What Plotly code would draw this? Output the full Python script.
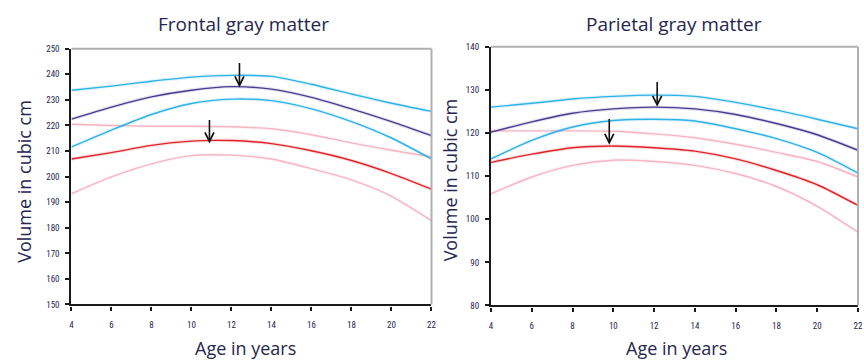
import plotly.graph_objects as go

# ---------------- data ----------------
ages = [4, 6, 8, 10, 12, 14, 16, 18, 20, 22]

# Frontal gray matter (cubic cm)
frontal_male_upper = [233.8, 235.4, 237.3, 238.9, 239.6, 239.2, 236.1, 232.3, 228.7, 225.5]
frontal_male_mean = [222.5, 227.2, 231.2, 233.8, 235.2, 234.2, 231.0, 226.5, 221.5, 216.0]
frontal_male_lower = [211.6, 218.2, 224.3, 228.6, 230.3, 229.7, 226.5, 221.5, 215.1, 206.9]
frontal_female_upper = [220.5, 220.0, 219.7, 219.7, 219.5, 218.7, 216.4, 213.2, 210.3, 207.8]
frontal_female_mean = [206.9, 209.4, 212.2, 213.9, 214.1, 212.9, 210.1, 206.3, 201.2, 195.1]
frontal_female_lower = [193.3, 199.9, 205.0, 208.2, 208.4, 206.9, 203.1, 198.7, 192.3, 182.8]

# Parietal gray matter (cubic cm)
parietal_male_upper = [126.0, 126.9, 127.9, 128.5, 128.8, 128.5, 127.1, 125.3, 123.2, 121.0]
parietal_male_mean = [120.2, 122.6, 124.6, 125.6, 126.0, 125.6, 124.3, 122.2, 119.6, 116.0]
parietal_male_lower = [114.0, 118.3, 121.4, 122.9, 123.2, 122.8, 121.0, 118.7, 115.5, 110.7]
parietal_female_upper = [120.5, 120.5, 120.5, 120.4, 119.8, 118.9, 117.4, 115.5, 113.4, 109.8]
parietal_female_mean = [113.2, 115.1, 116.6, 117.0, 116.6, 115.8, 114.0, 111.3, 108.0, 103.2]
parietal_female_lower = [105.9, 109.8, 112.5, 113.7, 113.4, 112.5, 110.6, 107.6, 103.0, 97.0]

# peak arrows: (age, start volume, tip volume)
frontal_arrows = [(12.4, 245.0, 234.9), (10.9, 222.7, 213.0)]
parietal_arrows = [(12.15, 132.2, 126.1), (9.8, 123.6, 117.3)]

titles = ["Frontal gray matter", "Parietal gray matter"]
x_title = "Age in years"
y_title = "Volume in cubic cm"
x_ticks = [4, 6, 8, 10, 12, 14, 16, 18, 20, 22]
frontal_y_ticks = [150, 160, 170, 180, 190, 200, 210, 220, 230, 240, 250]
parietal_y_ticks = [80, 90, 100, 110, 120, 130, 140]

# ---------------- style ----------------
CYAN = "#2fb2e6"
PURPLE = "#4a3b8f"
RED = "#e0242c"
PINK = "#f5b5c3"
TXT = "#26264f"

fig = go.Figure()

def add_series(vals, color, name, xa, ya):
    fig.add_trace(go.Scatter(x=ages, y=vals, mode="lines",
                             line=dict(color=color, width=3.5, shape="spline", smoothing=0.7),
                             opacity=0.15, hoverinfo="skip", showlegend=False, xaxis=xa, yaxis=ya))
    fig.add_trace(go.Scatter(x=ages, y=vals, mode="lines", name=name,
                             line=dict(color=color, width=1.4, shape="spline", smoothing=0.7),
                             showlegend=False, xaxis=xa, yaxis=ya))

panels = [
    ("x", "y", [frontal_female_lower, frontal_female_upper, frontal_female_mean,
                frontal_male_lower, frontal_male_upper, frontal_male_mean], frontal_arrows),
    ("x2", "y2", [parietal_female_lower, parietal_female_upper, parietal_female_mean,
                  parietal_male_lower, parietal_male_upper, parietal_male_mean], parietal_arrows),
]
colors = [PINK, PINK, RED, CYAN, CYAN, PURPLE]
names = ["Female lower", "Female upper", "Female mean", "Male lower", "Male upper", "Male mean"]

annotations = []
for xa, ya, series, arrows in panels:
    for vals, c, n in zip(series, colors, names):
        add_series(vals, c, n, xa, ya)
    for ax_, y0, y1 in arrows:
        annotations.append(dict(x=ax_, y=y1, ax=ax_, ay=y0, xref=xa, yref=ya, axref=xa, ayref=ya,
                                showarrow=True, arrowhead=5, arrowsize=1.1, arrowwidth=1.6,
                                arrowcolor="#111111", text=""))

tick_font = dict(family="Liberation Sans Narrow, Roboto Condensed, Roboto", size=9, color=TXT)
axis_common = dict(showgrid=False, zeroline=False, showline=True, linecolor="#1a1a1a", linewidth=2.2,
                   ticks="outside", ticklen=4, tickwidth=1.6, tickcolor="#1a1a1a", tickfont=tick_font)

fig.update_layout(
    width=864, height=362, margin=dict(l=0, r=0, t=0, b=0),
    paper_bgcolor="white", plot_bgcolor="white",
    xaxis=dict(domain=[70 / 864, 433 / 864], range=[4, 22], tickvals=x_ticks, anchor="y",
               ticklabelstandoff=7, **axis_common),
    yaxis=dict(domain=[1 - 308 / 362, 1 - 45 / 362], range=[150, 250], tickvals=frontal_y_ticks,
               anchor="x", ticklabelstandoff=4, **axis_common),
    xaxis2=dict(domain=[493 / 864, 863 / 864], range=[4, 22], tickvals=x_ticks, anchor="y2",
                ticklabelstandoff=7, **axis_common),
    yaxis2=dict(domain=[1 - 309 / 362, 1 - 43 / 362], range=[80, 140], tickvals=parietal_y_ticks,
                anchor="x2", ticklabelstandoff=4, **axis_common),
)

# grey top/right frame
for xa, ya in [("x", "y"), ("x2", "y2")]:
    fig.add_shape(type="line", xref=f"{xa} domain", yref=f"{ya} domain", x0=0, x1=1, y0=1, y1=1,
                  line=dict(color="#b0b0b0", width=2))
    fig.add_shape(type="line", xref=f"{xa} domain", yref=f"{ya} domain", x0=1, x1=1, y0=0, y1=1,
                  line=dict(color="#b0b0b0", width=2))

def label(text, px, py, angle=0, size=16):
    return dict(text=text, x=px / 864, y=1 - py / 362, xref="paper", yref="paper", showarrow=False,
                xanchor="center", yanchor="middle", textangle=angle,
                font=dict(family="Open Sans", size=size, color=TXT))

annotations += [
    label(titles[0], 243, 20, size=19),
    label(titles[1], 677, 20, size=19),
    label(x_title, 245, 353, size=18),
    label(x_title, 680, 353, size=18),
    label(y_title, 22, 181, -90, size=18),
    label(y_title, 452, 180, -90, size=18),
]
fig.update_layout(annotations=annotations)

fig.write_html("out.html")
